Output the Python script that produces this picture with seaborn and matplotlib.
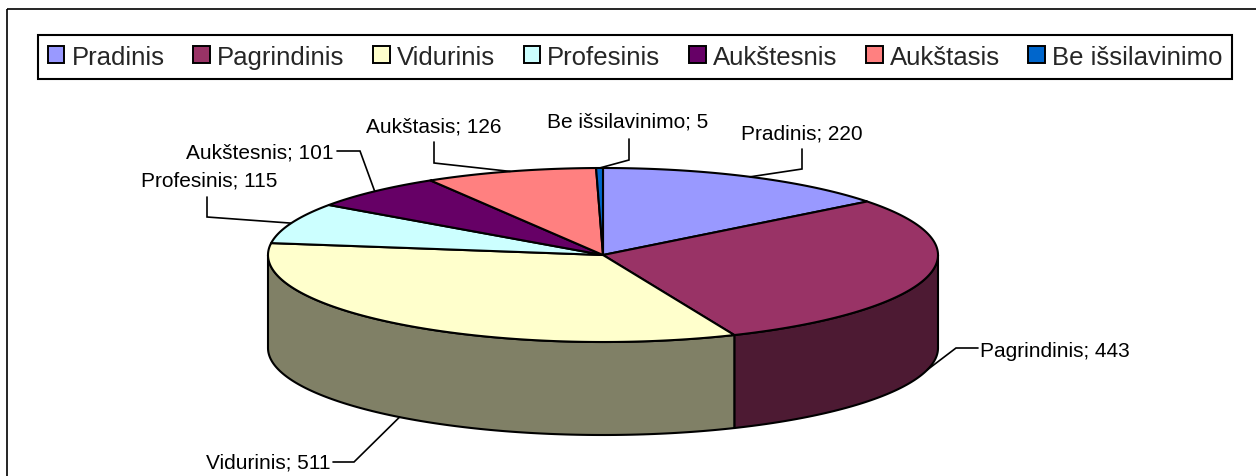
import numpy as np
import matplotlib
matplotlib.use('Agg')
import matplotlib.pyplot as plt
import seaborn as sns
from matplotlib.patches import Polygon, Patch, Rectangle
from matplotlib.colors import to_rgb

# data
categories = ['Pradinis', 'Pagrindinis', 'Vidurinis', 'Profesinis',
              'Aukštesnis', 'Aukštasis', 'Be išsilavinimo']
values = [220, 443, 511, 115, 101, 126, 5]
colors = ['#9999FF', '#993366', '#FFFFCC', '#CCFFFF', '#660066', '#FF8080', '#0066CC']

# label layout (text baseline position, alignment, leader elbow points)
label_layout = {
    'Pradinis': ((802, 140), 'center', [(802, 170), (802, 150)]),
    'Pagrindinis': ((980, 357), 'left', [(956, 349), (978, 349)]),
    'Vidurinis': ((331, 469), 'right', [(354, 463), (333, 463)]),
    'Profesinis': ((209, 187), 'center', [(207, 218), (207, 198)]),
    'Aukštesnis': ((334, 159), 'right', [(360, 152), (337, 152)]),
    'Aukštasis': ((434, 133), 'center', [(434, 164), (434, 143)]),
    'Be išsilavinimo': ((628, 128), 'center', [(629, 161), (629, 140)]),
}

sns.set_theme(style='white')
plt.rcParams['font.family'] = ['Liberation Sans', 'DejaVu Sans']
palette = sns.color_palette(colors)

fig = plt.figure(figsize=(12.56, 4.77), dpi=100)
ax = fig.add_axes([0, 0, 1, 1])
ax.set_xlim(0, 1256)
ax.set_ylim(477, 0)
ax.axis('off')

# pie geometry (pixels)
cx, cy, rx, ry, depth = 603, 256, 335, 87, 93


def ell(theta, dy=0.0):
    t = np.radians(theta)
    return np.column_stack([cx + rx * np.sin(t), cy - ry * np.cos(t) + dy])


total = float(sum(values))
bounds = np.concatenate([[0], np.cumsum(values)]) / total * 360.0

# side walls (front half only: 90..270 deg clockwise from top)
for i, c in enumerate(palette):
    lo, hi = max(bounds[i], 90), min(bounds[i + 1], 270)
    if hi <= lo:
        continue
    th = np.linspace(lo, hi, 120)
    pts = np.vstack([ell(th), ell(th[::-1], depth)])
    dark = tuple(np.array(to_rgb(c)) * 0.5)
    ax.add_patch(Polygon(pts, closed=True, facecolor=dark, edgecolor='black',
                         linewidth=1.5, joinstyle='round'))

# top faces
for i, c in enumerate(palette):
    th = np.linspace(bounds[i], bounds[i + 1], 200)
    pts = np.vstack([[cx, cy], ell(th)])
    ax.add_patch(Polygon(pts, closed=True, facecolor=c, edgecolor='black',
                         linewidth=1.5, joinstyle='round'))

# data labels with leader lines
for i, name in enumerate(categories):
    mid = (bounds[i] + bounds[i + 1]) / 2
    front = 90 < mid < 270
    anchor = ell([mid], depth if front else 0)[0]
    (tx, ty), ha, elbow = label_layout[name]
    path = np.vstack([anchor, elbow])
    ax.plot(path[:, 0], path[:, 1], color='black', linewidth=1.2,
            solid_joinstyle='miter')
    ax.text(tx, ty, f'{name}; {values[i]}', ha=ha, va='baseline',
            fontsize=15, color='black')

# outer frame
ax.add_patch(Rectangle((7, 10), 1260, 500, fill=False, edgecolor='black',
                       linewidth=1.2))

# legend
handles = [Patch(facecolor=c, edgecolor='black', linewidth=1.4) for c in palette]
leg = ax.legend(handles, categories, loc='upper left', ncol=7,
                bbox_to_anchor=(38 / 1256, 1 - 36 / 477), borderaxespad=0,
                fontsize=18.5, handlelength=0.65, handleheight=0.65,
                handletextpad=0.27, columnspacing=1.12, borderpad=0.38,
                fancybox=False, frameon=True)
leg.get_frame().set_edgecolor('black')
leg.get_frame().set_linewidth(1.5)
leg.get_frame().set_alpha(1)

fig.savefig('out.png', dpi=100, facecolor='white')
